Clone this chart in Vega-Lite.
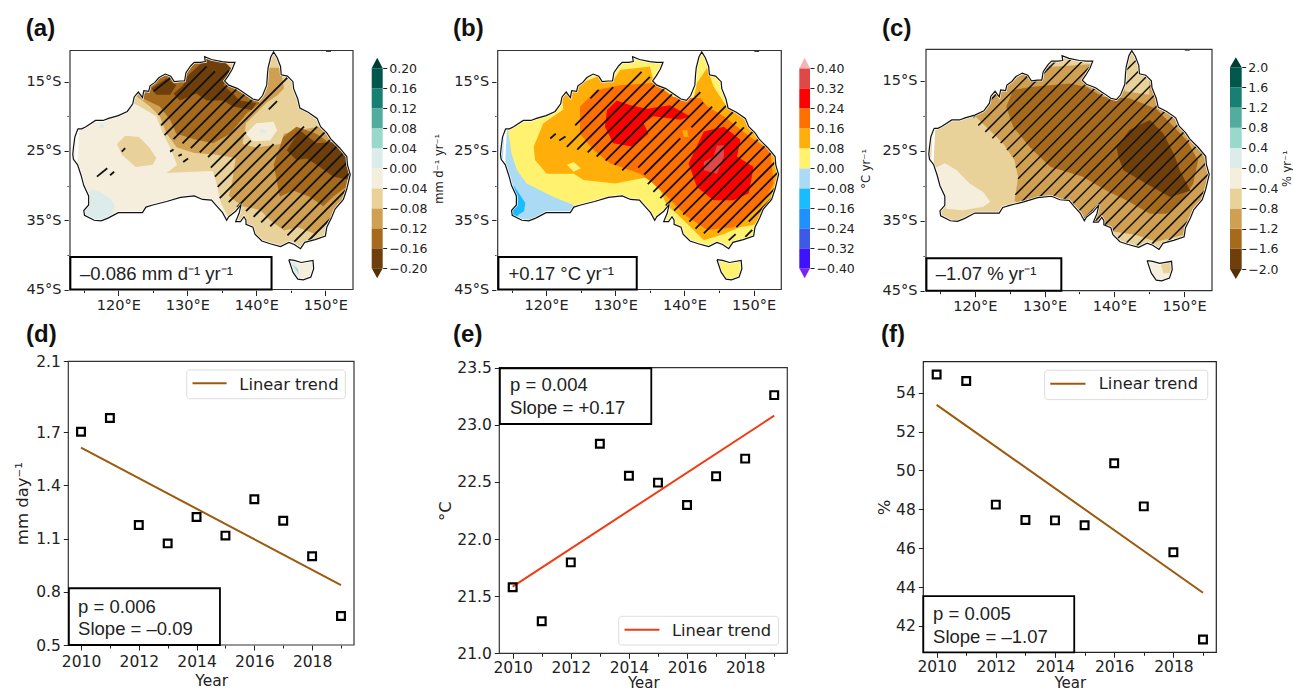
{"$schema":"https://vega.github.io/schema/vega-lite/v6.json","width":1293,"height":690,"padding":0,"autosize":{"type":"none"},"background":"white",
"config":{"view":{"stroke":null},"axis":{"grid":false,"domain":false,"labelFont":"DejaVu Sans","titleFont":"DejaVu Sans","labelColor":"#222","titleColor":"#222","tickColor":"#222","labelOverlap":false,"labelFlush":false}},
"datasets":{
"coast":[{"id":"main","x":[114.15,114.7,115.3,116.7,117.8,118.6,120,121.3,122.1,122.3,122.9,123.5,123.7,124.4,124.6,125.3,125.9,126.8,127.6,128.1,129,129.6,129.8,130.5,131,131.9,132.6,132.5,133.5,135,136,136.9,136.5,135.9,135.4,136,137.3,138.5,139.5,140.3,140.9,141.5,141.6,141.7,142.1,142.5,143,143.5,143.6,144.5,145.3,145.4,146,146.3,147.5,148.8,149.3,150.2,150.8,152,153.1,153.2,153.6,153.1,152.6,151.4,150.9,150.2,150,148.5,147,146.4,145.5,144.7,143.5,142,140.8,139.8,139.5,138.5,138.5,138.2,137.7,137,137.5,137.8,137,136,135.7,135.1,134.2,133.5,132.2,131,129,127,125,124,123.5,122,120,118.5,117.5,116.5,115.1,115,115.7,115.7,115,114.6,114.1,113.5,113.4,113.5,113.7,114.15],"y":[-21.8,-21.8,-21.5,-20.6,-20.6,-20.3,-19.9,-19.3,-18.2,-17.2,-16.5,-17.3,-16.3,-16.4,-15.6,-15.1,-14.4,-13.9,-14.2,-15,-14.9,-14.9,-13.7,-12.7,-12.2,-12.2,-12.1,-11.4,-11.8,-12.1,-12.2,-12.2,-13.2,-14.2,-14.9,-15.5,-16,-16.8,-17.5,-17.7,-17,-15.5,-14,-13,-11.4,-10.7,-11.5,-12.8,-14,-14.2,-15,-16,-17.5,-18.8,-19.4,-20.3,-21.5,-22.4,-23.3,-24.5,-25.8,-27,-28.4,-30.5,-32,-33.4,-34.6,-36,-37.3,-37.8,-38.2,-39.1,-38.5,-38.2,-38.8,-38.4,-38,-37,-36,-35.6,-35,-34.5,-35.2,-35.2,-34,-32.7,-33.7,-34.5,-35,-33.9,-32.9,-32.1,-32,-31.5,-31.7,-32.3,-32.8,-33.1,-33.9,-33.9,-33.9,-34.7,-35.1,-35,-34.3,-33.6,-32.8,-31.5,-30,-28.5,-27,-26.2,-25.5,-24.5,-23,-21.8]},
{"id":"tas","x":[144.7,145.5,146.5,148.2,148.3,147.9,146.8,146,145.3,144.7],"y":[-40.7,-40.8,-41.1,-40.8,-42,-43.2,-43.6,-43.5,-42.5,-40.7]},
{"id":"speck","x":[150.1,150.8],"y":[-10.6,-10.6]}],
"mask":[{"id":"m","x":[113,154,154,113,113,144.7,145.5,146.5,148.2,148.3,147.9,146.8,146,145.3,144.7,113,114.15,114.7,115.3,116.7,117.8,118.6,120,121.3,122.1,122.3,122.9,123.5,123.7,124.4,124.6,125.3,125.9,126.8,127.6,128.1,129,129.6,129.8,130.5,131,131.9,132.6,132.5,133.5,135,136,136.9,136.5,135.9,135.4,136,137.3,138.5,139.5,140.3,140.9,141.5,141.6,141.7,142.1,142.5,143,143.5,143.6,144.5,145.3,145.4,146,146.3,147.5,148.8,149.3,150.2,150.8,152,153.1,153.2,153.6,153.1,152.6,151.4,150.9,150.2,150,148.5,147,146.4,145.5,144.7,143.5,142,140.8,139.8,139.5,138.5,138.5,138.2,137.7,137,137.5,137.8,137,136,135.7,135.1,134.2,133.5,132.2,131,129,127,125,124,123.5,122,120,118.5,117.5,116.5,115.1,115,115.7,115.7,115,114.6,114.1,113.5,113.4,113.5,113.7,114.15,113],"y":[-45,-45,-10.5,-10.5,-45,-40.7,-40.8,-41.1,-40.8,-42,-43.2,-43.6,-43.5,-42.5,-40.7,-45,-21.8,-21.8,-21.5,-20.6,-20.6,-20.3,-19.9,-19.3,-18.2,-17.2,-16.5,-17.3,-16.3,-16.4,-15.6,-15.1,-14.4,-13.9,-14.2,-15,-14.9,-14.9,-13.7,-12.7,-12.2,-12.2,-12.1,-11.4,-11.8,-12.1,-12.2,-12.2,-13.2,-14.2,-14.9,-15.5,-16,-16.8,-17.5,-17.7,-17,-15.5,-14,-13,-11.4,-10.7,-11.5,-12.8,-14,-14.2,-15,-16,-17.5,-18.8,-19.4,-20.3,-21.5,-22.4,-23.3,-24.5,-25.8,-27,-28.4,-30.5,-32,-33.4,-34.6,-36,-37.3,-37.8,-38.2,-39.1,-38.5,-38.2,-38.8,-38.4,-38,-37,-36,-35.6,-35,-34.5,-35.2,-35.2,-34,-32.7,-33.7,-34.5,-35,-33.9,-32.9,-32.1,-32,-31.5,-31.7,-32.3,-32.8,-33.1,-33.9,-33.9,-33.9,-34.7,-35.1,-35,-34.3,-33.6,-32.8,-31.5,-30,-28.5,-27,-26.2,-25.5,-24.5,-23,-21.8,-45]}]
},
"resolve":{"scale":{"x":"independent","y":"independent","fill":"independent"},"axis":{"x":"independent","y":"independent"}},
"layer":[
{"encoding":{"x":{"field":"x","type":"quantitative","title":null,"scale":{"domain":[113,154],"range":[70,353]},"axis":{"orient":"bottom","offset":-400.5,"values":[115,120,125,130,135,140,145,150],"labelExpr":"datum.value%10==0?datum.value+'°E':''","labelFontSize":14.5,"labelPadding":3,"tickSize":{"condition":{"test":"datum.value%10==0","value":6},"value":3}}},"y":{"field":"y","type":"quantitative","title":null,"scale":{"domain":[-45,-10.5],"range":[289.5,50.5]},"axis":{"orient":"left","offset":-70,"values":[-15,-20,-25,-30,-35,-40,-45],"labelExpr":"datum.value%10==0?'':abs(datum.value)+'°S'","labelFontSize":14.5,"labelPadding":3,"tickSize":{"condition":{"test":"datum.value%10==0","value":3},"value":6}}}},
"layer":[
{"data":{"values":[
{"id":1,"v":-0.02,"x":[113,154,154,113],"y":[-45,-45,-10.5,-10.5]},
{"id":2,"v":0.02,"x":[116,117.5,119,119.5,119,116,115,115.3],"y":[-30.5,-31,-32,-33,-34.5,-35,-34,-32]},
{"id":3,"v":0.02,"x":[117.4,118,117.8,117.3],"y":[-21,-21.2,-21.8,-21.6]},
{"id":4,"v":0.02,"x":[144.5,145.5,146.3,146,145],"y":[-40.5,-41,-42.5,-43,-41.8]},
{"id":5,"v":0.06,"x":[145.2,146,146.2],"y":[-41.4,-42,-42.8]},
{"id":6,"v":-0.06,"x":[119.8,121,123,124.5,125.5,125,122.5,120.5],"y":[-24,-22.8,-23,-24.5,-26,-27,-27.3,-25.5]},
{"id":7,"v":-0.06,"x":[120,123,125.5,126.5,127.5,128.5,127,131,133.7,134.3,134.8,136,137,154,154,120],"y":[-17,-18.5,-20,-22.5,-24.5,-27,-28.2,-28,-27.9,-30,-32.3,-34.8,-40,-40,-10.6,-10.6]},
{"id":8,"v":-0.1,"x":[122.5,124.5,126,127,128.5,131,134,137,136.5,136,138,140.5,142,144,146,148.5,151,153,154,152,149,146,144,143.5,140,138,138.5,140,141.5,143,144,143.5,141,140,137,135,125],"y":[-17,-18.5,-20,-22.5,-24.5,-25.3,-25.5,-26,-29.5,-31.5,-33,-33.5,-35,-36.5,-36,-37,-34.5,-31,-27,-23,-21.5,-22,-22.5,-24,-24.5,-24,-21,-19.5,-18,-17,-16,-13,-13,-17.5,-16,-12,-12]},
{"id":9,"v":-0.02,"x":[138.5,140,142.5,143,142,139.5],"y":[-22.5,-21,-20.8,-22,-23.5,-23.6]},
{"id":10,"v":0.02,"x":[140.5,141.5,141.3,140.6],"y":[-21.8,-22,-22.5,-22.4]},
{"id":11,"v":-0.14,"x":[123.1,126,127.5,128.4,131.3,133.7,136.2,138.6,140.5,139,136.6,135,132,128,125],"y":[-17.2,-18.6,-20.5,-22.5,-23.4,-23.9,-22.5,-19.6,-18.1,-16.5,-15,-11,-11,-13,-14.5]},
{"id":12,"v":-0.14,"x":[143.9,145.8,148.7,152.1,153.3,153,151.1,149.7,147.7,145.3,143.4,142.5],"y":[-23,-21.5,-22.5,-24.9,-27.8,-30.2,-31.6,-33,-31.6,-30.7,-31.6,-27]},
{"id":13,"v":-0.18,"x":[129.9,132.8,135.2,136.6,135.2,136.6,137.6,140,139.3,136.6,135.2,132.8,131.3,128.9,128,129.4],"y":[-14.3,-11.6,-11.9,-13.3,-15.5,-16.7,-17.7,-18.1,-19.1,-18.6,-17.7,-17.7,-16.7,-17.7,-16.7,-15.5]},
{"id":14,"v":-0.18,"x":[124.8,127,128.4,127.5,125.5],"y":[-16,-14.5,-15.5,-16.9,-16.9]},
{"id":15,"v":-0.18,"x":[144.4,146.3,148.7,151.1,153.6,153.6,151.1,149.2,147.3,145.8],"y":[-24.9,-22,-23.9,-23.7,-26.3,-29.2,-28.7,-27.3,-26.1,-26.3]}
]},"transform":[{"flatten":["x","y"]}],"mark":{"type":"line","strokeWidth":0,"order":false},"encoding":{"detail":{"field":"id"},"fill":{"field":"v","type":"ordinal","legend":null,"scale":{"domain":[-0.22,-0.18,-0.14,-0.1,-0.06,-0.02,0.02,0.06,0.1,0.14,0.18,0.22],"range":["#543005","#6e3f0a","#a66a1c","#cfa052","#e9d29a","#f5eedc","#dcecea","#9bd8cc","#52ad9f","#187f75","#01574c","#003c30"]}}}},
{"data":{"values":[{"x":125.8,"y":-19.8,"x2":132.8,"y2":-12.8},{"x":126.2,"y":-21.3,"x2":134,"y2":-13.5},{"x":126.7,"y":-22.7,"x2":136,"y2":-13.4},{"x":128,"y":-23.3,"x2":137,"y2":-14.3},{"x":129.3,"y":-23.9,"x2":138,"y2":-15.2},{"x":130.5,"y":-24.6,"x2":139,"y2":-16.1},{"x":131.8,"y":-25.2,"x2":140,"y2":-17},{"x":133,"y":-25.9,"x2":144.5,"y2":-14.4},{"x":133.4,"y":-27.4,"x2":138.5,"y2":-22.3},{"x":141.8,"y":-19,"x2":143,"y2":-17.8},{"x":134,"y":-28.7,"x2":139.2,"y2":-23.5},{"x":134.4,"y":-30.2,"x2":140.6,"y2":-24},{"x":134.7,"y":-31.8,"x2":142.5,"y2":-24},{"x":136,"y":-32.4,"x2":146.9,"y2":-21.5},{"x":137.2,"y":-33.1,"x2":148.8,"y2":-21.5},{"x":138.5,"y":-33.7,"x2":150,"y2":-22.2},{"x":139.6,"y":-34.5,"x2":151.5,"y2":-22.6},{"x":140.7,"y":-35.3,"x2":154,"y2":-22},{"x":142,"y":-35.9,"x2":154,"y2":-23.9},{"x":143.7,"y":-36.1,"x2":154,"y2":-25.8},{"x":144.5,"y":-37.2,"x2":154,"y2":-27.7},{"x":145.5,"y":-38.1,"x2":154,"y2":-29.6},{"x":147.5,"y":-38,"x2":152,"y2":-33.5},{"x":116.9,"y":-28.7,"x2":118.4,"y2":-27.5},{"x":118.8,"y":-28.5,"x2":119.4,"y2":-28},{"x":120.5,"y":-25.1,"x2":121,"y2":-24.6},{"x":127.5,"y":-25.1,"x2":128,"y2":-24.8},{"x":128.7,"y":-25.7,"x2":129.2,"y2":-25.5},{"x":129.4,"y":-26.6,"x2":130.1,"y2":-26.1},{"x":125.1,"y":-16.4,"x2":127.5,"y2":-14.5}]},"mark":{"type":"rule","stroke":"#111","strokeWidth":1.8},"encoding":{"x2":{"field":"x2"},"y2":{"field":"y2"}}},
{"data":{"name":"mask"},"transform":[{"flatten":["x","y"]}],"mark":{"type":"line","fill":"white","stroke":"white","strokeWidth":2.5,"order":false}},
{"data":{"name":"coast"},"transform":[{"flatten":["x","y"]}],"mark":{"type":"line","stroke":"#111","strokeWidth":1.2,"order":false},"encoding":{"detail":{"field":"id"}}},
{"data":{"values":[{"x":113,"x2":154,"y":-45,"y2":-10.5}]},"mark":{"type":"rect","fill":null,"stroke":"#333","strokeWidth":1.2},"encoding":{"x2":{"field":"x2"},"y2":{"field":"y2"}}},
{"data":{"values":[{"x":113.05,"x2":142.2,"y":-45,"y2":-40.3}]},"mark":{"type":"rect","fill":"white","stroke":"#000","strokeWidth":2},"encoding":{"x2":{"field":"x2"},"y2":{"field":"y2"}}},
{"data":{"values":[{"x":114.45,"y":-43.6,"t":"–0.086 mm d⁻¹ yr⁻¹"}]},"mark":{"type":"text","font":"Liberation Sans","fontSize":18.5,"align":"left","baseline":"alphabetic","color":"#222"},"encoding":{"text":{"field":"t"}}},
{"data":{"values":[{"x":106.6,"y":-8.4,"t":"(a)"}]},"mark":{"type":"text","font":"Liberation Sans","fontWeight":"bold","fontSize":24,"align":"left","baseline":"alphabetic","color":"#111"},"encoding":{"text":{"field":"t"}}}
]},
{"encoding":{"x":{"field":"x","type":"quantitative","title":null,"axis":null,"scale":{"domain":[0,1],"range":[371.7,382.7]}},"y":{"field":"y","type":"quantitative","title":"mm d⁻¹ yr⁻¹","scale":{"domain":[-0.2,0.2],"range":[268.3,68.3]},"axis":{"orient":"right","offset":-910.3,"values":[-0.2,-0.16,-0.12,-0.08,-0.04,0,0.04,0.08,0.12,0.16,0.2],"labelExpr":"replace(format(datum.value,'.2f'),'-','−')","labelFontSize":12.5,"labelPadding":2,"tickSize":4,"titleFontSize":11.5,"titleFontWeight":"normal","titleAngle":270,"titlePadding":17}}},
"layer":[
{"data":{"values":[{"x":0,"x2":1,"v":-0.18,"y":-0.2,"y2":-0.16},{"x":0,"x2":1,"v":-0.14,"y":-0.16,"y2":-0.12},{"x":0,"x2":1,"v":-0.1,"y":-0.12,"y2":-0.08},{"x":0,"x2":1,"v":-0.06,"y":-0.08,"y2":-0.04},{"x":0,"x2":1,"v":-0.02,"y":-0.04,"y2":0},{"x":0,"x2":1,"v":0.02,"y":0,"y2":0.04},{"x":0,"x2":1,"v":0.06,"y":0.04,"y2":0.08},{"x":0,"x2":1,"v":0.1,"y":0.08,"y2":0.12},{"x":0,"x2":1,"v":0.14,"y":0.12,"y2":0.16},{"x":0,"x2":1,"v":0.18,"y":0.16,"y2":0.2}]},"mark":{"type":"rect"},"encoding":{"x2":{"field":"x2"},"y2":{"field":"y2"},"fill":{"field":"v","type":"ordinal","legend":null,"scale":{"domain":[-0.22,-0.18,-0.14,-0.1,-0.06,-0.02,0.02,0.06,0.1,0.14,0.18,0.22],"range":["#543005","#6e3f0a","#a66a1c","#cfa052","#e9d29a","#f5eedc","#dcecea","#9bd8cc","#52ad9f","#187f75","#01574c","#003c30"]}}}},
{"data":{"values":[{"id":1,"v":-0.22,"x":[0,1,0.5],"y":[-0.2,-0.2,-0.22]},{"id":2,"v":0.22,"x":[0,1,0.5],"y":[0.2,0.2,0.221]}]},"transform":[{"flatten":["x","y"]}],"mark":{"type":"line","strokeWidth":0,"order":false},"encoding":{"detail":{"field":"id"},"fill":{"field":"v","type":"ordinal","legend":null}}}
]},
{"encoding":{"x":{"field":"x","type":"quantitative","title":null,"scale":{"domain":[113,154],"range":[497.7,781.3]},"axis":{"orient":"bottom","offset":-400.5,"values":[115,120,125,130,135,140,145,150],"labelExpr":"datum.value%10==0?datum.value+'°E':''","labelFontSize":14.5,"labelPadding":3,"tickSize":{"condition":{"test":"datum.value%10==0","value":6},"value":3}}},"y":{"field":"y","type":"quantitative","title":null,"scale":{"domain":[-45,-10.5],"range":[289.5,50.5]},"axis":{"orient":"left","offset":-497.7,"values":[-15,-20,-25,-30,-35,-40,-45],"labelExpr":"datum.value%10==0?'':abs(datum.value)+'°S'","labelFontSize":14.5,"labelPadding":3,"tickSize":{"condition":{"test":"datum.value%10==0","value":3},"value":6}}}},
"layer":[
{"data":{"values":[
{"id":1,"v":0.04,"x":[113,154,154,113],"y":[-45,-45,-10.5,-10.5]},
{"id":2,"v":-0.04,"x":[113,114.5,115,115.8,117.2,121,124,123,113],"y":[-22,-22,-25.4,-27.8,-29.7,-31.6,-32.8,-37,-37]},
{"id":3,"v":-0.12,"x":[115.3,116,117,116.8,116,115.5,114.5],"y":[-30,-31,-32.5,-33.7,-34.2,-35.2,-34.5]},
{"id":4,"v":0.12,"x":[122.3,122.5,119.6,118.2,118.4,120.1,124,125.4,130,134.6,136.5,137.5,138.4,140.4,142.8,145.7,148,151,153.9,153.4,149.5,146.1,144.2,143.3,141.8,141.3,138.4,135.5,135,130.7,129.7,127.3,124],"y":[-17.4,-19,-21,-24.4,-26.3,-28.3,-28.3,-29.2,-29.7,-28.8,-30.7,-33,-33.6,-35.5,-37.9,-37,-36,-35.5,-29.7,-24.9,-21,-18.6,-15.7,-13,-15.2,-17.6,-17.2,-14.8,-12.8,-13.3,-14.8,-14.3,-15.7]},
{"id":5,"v":0.04,"x":[123,124,125,124],"y":[-27,-26.6,-27.5,-28]},
{"id":6,"v":0.2,"x":[125.4,127.3,130.7,135.5,138.4,142.3,143.3,145.7,149.5,152.4,152.9,151,147.1,143.3,140.4,137.5,135.5,133.6,129.3,126.9,124.9,124.9],"y":[-18.1,-16.2,-15.5,-15.2,-17.2,-17.4,-18.6,-20,-23,-24.9,-29.7,-33,-36,-36.4,-34.5,-31.6,-29.7,-28.3,-26.8,-24.9,-22.5,-18.6]},
{"id":7,"v":0.12,"x":[139.7,140.4,140.6,139.9],"y":[-22,-22,-23,-23]},
{"id":8,"v":0.28,"x":[128.8,130.2,132.2,134.6,137.9,140.8,139.4,135.5,134.1,134.8,132.6,129.7,128.5],"y":[-19.1,-17.7,-18.4,-18.9,-18.4,-20,-20.5,-20,-21,-22.5,-24.4,-23.9,-21.5]},
{"id":9,"v":0.28,"x":[142.8,145.7,148.1,147.6,150,149.3,147.1,144.2,141.8,140.6],"y":[-22.2,-21.5,-23.4,-25.8,-27.3,-31.1,-32.1,-32.1,-30.2,-26.8]},
{"id":10,"v":0.36,"x":[144.7,145.7,145.7,144.7,142.8,142.8,144.2],"y":[-24.2,-24.2,-25.8,-28.3,-27.8,-26.6,-25.8]}
]},"transform":[{"flatten":["x","y"]}],"mark":{"type":"line","strokeWidth":0,"order":false},"encoding":{"detail":{"field":"id"},"fill":{"field":"v","type":"ordinal","legend":null,"scale":{"domain":[-0.44,-0.36,-0.28,-0.2,-0.12,-0.04,0.04,0.12,0.2,0.28,0.36,0.44],"range":["#7b22f5","#3c12ff","#3b5be6","#1e90ff","#1bbcff","#abdaf4","#fff26e","#ffae0a","#ff7000","#ff0000","#e04848","#f5b5b5"]}}}},
{"data":{"values":[{"x":124.2,"y":-21.3,"x2":129.7,"y2":-15.8},{"x":126.4,"y":-17.4,"x2":127.6,"y2":-16.2},{"x":123,"y":-24.4,"x2":133.8,"y2":-13.6},{"x":124.5,"y":-24.8,"x2":135,"y2":-14.3},{"x":126,"y":-25.2,"x2":136.5,"y2":-14.7},{"x":127.3,"y":-25.8,"x2":137.5,"y2":-15.6},{"x":128.6,"y":-26.4,"x2":138.5,"y2":-16.5},{"x":129.9,"y":-27,"x2":139.5,"y2":-17.4},{"x":131,"y":-27.8,"x2":142.3,"y2":-16.5},{"x":133.3,"y":-27.4,"x2":142.7,"y2":-18},{"x":134.2,"y":-28.4,"x2":139.4,"y2":-23.2},{"x":141,"y":-21.6,"x2":144,"y2":-18.6},{"x":134.7,"y":-29.8,"x2":146,"y2":-18.5},{"x":135.5,"y":-30.9,"x2":147,"y2":-19.4},{"x":136.5,"y":-31.8,"x2":147.5,"y2":-20.8},{"x":137.3,"y":-32.9,"x2":148.6,"y2":-21.6},{"x":138.5,"y":-33.6,"x2":150,"y2":-22.1},{"x":139.8,"y":-34.2,"x2":151.2,"y2":-22.8},{"x":140.7,"y":-35.2,"x2":152.5,"y2":-23.4},{"x":141.6,"y":-36.2,"x2":154,"y2":-23.8},{"x":142.8,"y":-36.9,"x2":154,"y2":-25.7},{"x":144.8,"y":-36.8,"x2":154,"y2":-27.6},{"x":147.5,"y":-36,"x2":154,"y2":-29.5},{"x":146.4,"y":-37.9,"x2":147.4,"y2":-37},{"x":149.3,"y":-35.2,"x2":154,"y2":-30.5},{"x":148.8,"y":-37.4,"x2":149.8,"y2":-36.4},{"x":120.6,"y":-23.2,"x2":121.4,"y2":-22.5},{"x":121.9,"y":-23.5,"x2":122.8,"y2":-22.9}]},"mark":{"type":"rule","stroke":"#111","strokeWidth":1.8},"encoding":{"x2":{"field":"x2"},"y2":{"field":"y2"}}},
{"data":{"name":"mask"},"transform":[{"flatten":["x","y"]}],"mark":{"type":"line","fill":"white","stroke":"white","strokeWidth":2.5,"order":false}},
{"data":{"name":"coast"},"transform":[{"flatten":["x","y"]}],"mark":{"type":"line","stroke":"#111","strokeWidth":1.2,"order":false},"encoding":{"detail":{"field":"id"}}},
{"data":{"values":[{"x":113,"x2":154,"y":-45,"y2":-10.5}]},"mark":{"type":"rect","fill":null,"stroke":"#333","strokeWidth":1.2},"encoding":{"x2":{"field":"x2"},"y2":{"field":"y2"}}},
{"data":{"values":[{"x":113.1,"x2":133.1,"y":-45,"y2":-40.3}]},"mark":{"type":"rect","fill":"white","stroke":"#000","strokeWidth":2},"encoding":{"x2":{"field":"x2"},"y2":{"field":"y2"}}},
{"data":{"values":[{"x":114.55,"y":-43.6,"t":"+0.17 °C yr⁻¹"}]},"mark":{"type":"text","font":"Liberation Sans","fontSize":18.5,"align":"left","baseline":"alphabetic","color":"#222"},"encoding":{"text":{"field":"t"}}},
{"data":{"values":[{"x":106.54,"y":-8.4,"t":"(b)"}]},"mark":{"type":"text","font":"Liberation Sans","fontWeight":"bold","fontSize":24,"align":"left","baseline":"alphabetic","color":"#111"},"encoding":{"text":{"field":"t"}}}
]},
{"encoding":{"x":{"field":"x","type":"quantitative","title":null,"axis":null,"scale":{"domain":[0,1],"range":[799.3,810]}},"y":{"field":"y","type":"quantitative","title":"°C yr⁻¹","scale":{"domain":[-0.4,0.4],"range":[268.3,68.3]},"axis":{"orient":"right","offset":-483,"values":[-0.4,-0.32,-0.24,-0.16,-0.08,0,0.08,0.16,0.24,0.32,0.4],"labelExpr":"replace(format(datum.value,'.2f'),'-','−')","labelFontSize":12.5,"labelPadding":2,"tickSize":4,"titleFontSize":11.5,"titleFontWeight":"normal","titleAngle":270,"titlePadding":17}}},
"layer":[
{"data":{"values":[{"x":0,"x2":1,"v":-0.36,"y":-0.4,"y2":-0.32},{"x":0,"x2":1,"v":-0.28,"y":-0.32,"y2":-0.24},{"x":0,"x2":1,"v":-0.2,"y":-0.24,"y2":-0.16},{"x":0,"x2":1,"v":-0.12,"y":-0.16,"y2":-0.08},{"x":0,"x2":1,"v":-0.04,"y":-0.08,"y2":0},{"x":0,"x2":1,"v":0.04,"y":0,"y2":0.08},{"x":0,"x2":1,"v":0.12,"y":0.08,"y2":0.16},{"x":0,"x2":1,"v":0.2,"y":0.16,"y2":0.24},{"x":0,"x2":1,"v":0.28,"y":0.24,"y2":0.32},{"x":0,"x2":1,"v":0.36,"y":0.32,"y2":0.4}]},"mark":{"type":"rect"},"encoding":{"x2":{"field":"x2"},"y2":{"field":"y2"},"fill":{"field":"v","type":"ordinal","legend":null,"scale":{"domain":[-0.44,-0.36,-0.28,-0.2,-0.12,-0.04,0.04,0.12,0.2,0.28,0.36,0.44],"range":["#7b22f5","#3c12ff","#3b5be6","#1e90ff","#1bbcff","#abdaf4","#fff26e","#ffae0a","#ff7000","#ff0000","#e04848","#f5b5b5"]}}}},
{"data":{"values":[{"id":1,"v":-0.44,"x":[0,1,0.5],"y":[-0.4,-0.4,-0.44]},{"id":2,"v":0.44,"x":[0,1,0.5],"y":[0.4,0.4,0.442]}]},"transform":[{"flatten":["x","y"]}],"mark":{"type":"line","strokeWidth":0,"order":false},"encoding":{"detail":{"field":"id"},"fill":{"field":"v","type":"ordinal","legend":null}}}
]},
{"encoding":{"x":{"field":"x","type":"quantitative","title":null,"scale":{"domain":[113,154],"range":[926,1212]},"axis":{"orient":"bottom","offset":-399.3,"values":[115,120,125,130,135,140,145,150],"labelExpr":"datum.value%10==0?datum.value+'°E':''","labelFontSize":14.5,"labelPadding":3,"tickSize":{"condition":{"test":"datum.value%10==0","value":6},"value":3}}},"y":{"field":"y","type":"quantitative","title":null,"scale":{"domain":[-45,-10.5],"range":[290.7,49.3]},"axis":{"orient":"left","offset":-926,"values":[-15,-20,-25,-30,-35,-40,-45],"labelExpr":"datum.value%10==0?'':abs(datum.value)+'°S'","labelFontSize":14.5,"labelPadding":3,"tickSize":{"condition":{"test":"datum.value%10==0","value":3},"value":6}}}},
"layer":[
{"data":{"values":[
{"id":1,"v":-0.6,"x":[113,154,154,113],"y":[-45,-45,-10.5,-10.5]},
{"id":2,"v":-0.2,"x":[114,115.7,117.4,119.3,121.2,122.2,121.2,118.3,115.9,115.7,114.5],"y":[-27.6,-26.8,-27.8,-29.7,-30.9,-32.3,-33,-33.5,-33.3,-32.1,-29.2]},
{"id":3,"v":-1,"x":[120.2,124.1,125.7,126.2,125.7,130,154,154,130,119],"y":[-20.2,-24,-26.4,-28.8,-32.1,-37,-40,-10.6,-10.6,-16]},
{"id":4,"v":-0.6,"x":[141,145,145,141.5],"y":[-10.6,-10.6,-17,-16.5]},
{"id":5,"v":-0.6,"x":[128,137,137,131],"y":[-10.6,-10.6,-12.6,-13]},
{"id":6,"v":-0.6,"x":[139.5,143,146,150,151,139],"y":[-36.5,-37,-38,-37,-39,-39]},
{"id":7,"v":-1.4,"x":[124.5,125.5,127.9,133.6,136,138.4,142.2,146,150.4,152,151.3,149.4,147.5,145.1,141.8,138.9,135.5,130.8,127.9,125.5],"y":[-18.7,-16.3,-15.9,-15.4,-15.9,-17.3,-17.5,-19,-23.5,-26.4,-29.7,-32.6,-34,-34,-32.1,-30.7,-28.7,-27.3,-24.5,-21.6]},
{"id":8,"v":-1.8,"x":[140.3,142.2,145.1,147,148.5,149.4,150.9,148,144.6,141.3,140.6],"y":[-24.5,-22,-20.6,-22.5,-25.4,-27.8,-30.7,-31.6,-29.7,-27.8,-25.9]},
{"id":9,"v":-0.2,"x":[144.5,148.5,148.5,144.5],"y":[-40.5,-40.5,-44,-44]},
{"id":10,"v":-0.6,"x":[146.5,148.5,148.5,147],"y":[-40.5,-40.5,-42.5,-42.5]}
]},"transform":[{"flatten":["x","y"]}],"mark":{"type":"line","strokeWidth":0,"order":false},"encoding":{"detail":{"field":"id"},"fill":{"field":"v","type":"ordinal","legend":null,"scale":{"domain":[-2.2,-1.8,-1.4,-1,-0.6,-0.2,0.2,0.6,1,1.4,1.8,2.2],"range":["#543005","#6e3f0a","#a66a1c","#cfa052","#e9d29a","#f5eedc","#dcecea","#9bd8cc","#52ad9f","#187f75","#01574c","#003c30"]}}}},
{"data":{"values":[{"x":119.8,"y":-20.2,"x2":129.4,"y2":-10.6},{"x":120.5,"y":-21.4,"x2":131.3,"y2":-10.6},{"x":121.5,"y":-22.3,"x2":133.2,"y2":-10.6},{"x":122.5,"y":-23.2,"x2":135.1,"y2":-10.6},{"x":123.7,"y":-23.9,"x2":137,"y2":-10.6},{"x":124.6,"y":-24.9,"x2":138.9,"y2":-10.6},{"x":125.5,"y":-25.9,"x2":140.8,"y2":-10.6},{"x":125.9,"y":-27.4,"x2":142.7,"y2":-10.6},{"x":126.2,"y":-29,"x2":144.6,"y2":-10.6},{"x":125.8,"y":-31.3,"x2":146.5,"y2":-10.6},{"x":126,"y":-33,"x2":148.4,"y2":-10.6},{"x":127,"y":-33.9,"x2":150.3,"y2":-10.6},{"x":128,"y":-34.8,"x2":152.2,"y2":-10.6},{"x":130,"y":-34.7,"x2":154,"y2":-10.7},{"x":132,"y":-34.6,"x2":154,"y2":-12.6},{"x":134,"y":-34.5,"x2":154,"y2":-14.5},{"x":135,"y":-35.4,"x2":154,"y2":-16.4},{"x":136,"y":-36.3,"x2":154,"y2":-18.3},{"x":137,"y":-37.2,"x2":154,"y2":-20.2},{"x":138,"y":-38.1,"x2":154,"y2":-22.1},{"x":139,"y":-39,"x2":154,"y2":-24},{"x":140,"y":-39.9,"x2":154,"y2":-25.9},{"x":142,"y":-39.8,"x2":154,"y2":-27.8},{"x":144,"y":-39.7,"x2":154,"y2":-29.7},{"x":146,"y":-39.6,"x2":154,"y2":-31.6},{"x":147,"y":-40.5,"x2":154,"y2":-33.5}]},"mark":{"type":"rule","stroke":"#111","strokeWidth":1.5},"encoding":{"x2":{"field":"x2"},"y2":{"field":"y2"}}},
{"data":{"name":"mask"},"transform":[{"flatten":["x","y"]}],"mark":{"type":"line","fill":"white","stroke":"white","strokeWidth":2.5,"order":false}},
{"data":{"name":"coast"},"transform":[{"flatten":["x","y"]}],"mark":{"type":"line","stroke":"#111","strokeWidth":1.2,"order":false},"encoding":{"detail":{"field":"id"}}},
{"data":{"values":[{"x":113,"x2":154,"y":-45,"y2":-10.5}]},"mark":{"type":"rect","fill":null,"stroke":"#333","strokeWidth":1.2},"encoding":{"x2":{"field":"x2"},"y2":{"field":"y2"}}},
{"data":{"values":[{"x":113.06,"x2":132.4,"y":-45,"y2":-40.35}]},"mark":{"type":"rect","fill":"white","stroke":"#000","strokeWidth":2},"encoding":{"x2":{"field":"x2"},"y2":{"field":"y2"}}},
{"data":{"values":[{"x":114.4,"y":-43.5,"t":"–1.07 % yr⁻¹"}]},"mark":{"type":"text","font":"Liberation Sans","fontSize":18.5,"align":"left","baseline":"alphabetic","color":"#222"},"encoding":{"text":{"field":"t"}}},
{"data":{"values":[{"x":106.7,"y":-8.6,"t":"(c)"}]},"mark":{"type":"text","font":"Liberation Sans","fontWeight":"bold","fontSize":24,"align":"left","baseline":"alphabetic","color":"#111"},"encoding":{"text":{"field":"t"}}}
]},
{"encoding":{"x":{"field":"x","type":"quantitative","title":null,"axis":null,"scale":{"domain":[0,1],"range":[1230,1241.7]}},"y":{"field":"y","type":"quantitative","title":"% yr⁻¹","scale":{"domain":[-2,2],"range":[269,67.3]},"axis":{"orient":"right","offset":-51.3,"values":[-2,-1.6,-1.2,-0.8,-0.4,0,0.4,0.8,1.2,1.6,2],"labelExpr":"replace(format(datum.value,'.1f'),'-','−')","labelFontSize":12.5,"labelPadding":2,"tickSize":4,"titleFontSize":11.5,"titleFontWeight":"normal","titleAngle":270,"titlePadding":14}}},
"layer":[
{"data":{"values":[{"x":0,"x2":1,"v":-1.8,"y":-2,"y2":-1.6},{"x":0,"x2":1,"v":-1.4,"y":-1.6,"y2":-1.2},{"x":0,"x2":1,"v":-1,"y":-1.2,"y2":-0.8},{"x":0,"x2":1,"v":-0.6,"y":-0.8,"y2":-0.4},{"x":0,"x2":1,"v":-0.2,"y":-0.4,"y2":0},{"x":0,"x2":1,"v":0.2,"y":0,"y2":0.4},{"x":0,"x2":1,"v":0.6,"y":0.4,"y2":0.8},{"x":0,"x2":1,"v":1,"y":0.8,"y2":1.2},{"x":0,"x2":1,"v":1.4,"y":1.2,"y2":1.6},{"x":0,"x2":1,"v":1.8,"y":1.6,"y2":2}]},"mark":{"type":"rect"},"encoding":{"x2":{"field":"x2"},"y2":{"field":"y2"},"fill":{"field":"v","type":"ordinal","legend":null,"scale":{"domain":[-2.2,-1.8,-1.4,-1,-0.6,-0.2,0.2,0.6,1,1.4,1.8,2.2],"range":["#543005","#6e3f0a","#a66a1c","#cfa052","#e9d29a","#f5eedc","#dcecea","#9bd8cc","#52ad9f","#187f75","#01574c","#003c30"]}}}},
{"data":{"values":[{"id":1,"v":-2.2,"x":[0,1,0.5],"y":[-2,-2,-2.2]},{"id":2,"v":2.2,"x":[0,1,0.5],"y":[2,2,2.2]}]},"transform":[{"flatten":["x","y"]}],"mark":{"type":"line","strokeWidth":0,"order":false},"encoding":{"detail":{"field":"id"},"fill":{"field":"v","type":"ordinal","legend":null}}}
]},
{"encoding":{"x":{"field":"x","type":"quantitative","title":"Year","scale":{"domain":[2009.56,2019.45],"range":[68.3,354]},"axis":{"orient":"bottom","offset":-45,"values":[2010,2011,2012,2013,2014,2015,2016,2017,2018,2019],"labelExpr":"datum.value%2==0?format(datum.value,'d'):''","labelFontSize":15.5,"labelPadding":4.5,"titleFontSize":15.5,"titleFontWeight":"normal","titlePadding":3.5,"tickSize":{"condition":{"test":"datum.value%2==0","value":5},"value":3}}},"y":{"field":"y","type":"quantitative","title":"mm day⁻¹","scale":{"domain":[0.5,2.1],"range":[645,361.3]},"axis":{"orient":"left","offset":-68.3,"values":[0.5,0.8,1.1,1.4,1.7,2.1],"format":".1f","labelFontSize":15.5,"labelPadding":3,"tickSize":5,"titleFontSize":16.5,"titleFontWeight":"normal","titlePadding":5}}},
"layer":[
{"data":{"values":[{"x":2010,"y":1.613},{"x":2019,"y":0.838}]},"mark":{"type":"line","stroke":"#9c5a0c","strokeWidth":2}},
{"data":{"values":[{"x":2010,"y":1.703},{"x":2011,"y":1.78},{"x":2012,"y":1.177},{"x":2013,"y":1.073},{"x":2014,"y":1.222},{"x":2015,"y":1.117},{"x":2016,"y":1.322},{"x":2017,"y":1.201},{"x":2018,"y":1.0},{"x":2019,"y":0.664}]},"mark":{"type":"point","shape":"square","filled":false,"stroke":"#000","strokeWidth":2.2,"size":60,"opacity":1}},
{"data":{"values":[{"x":2009.56,"x2":2019.45,"y":0.5,"y2":2.1}]},"mark":{"type":"rect","fill":null,"stroke":"#333","strokeWidth":1.2},"encoding":{"x2":{"field":"x2"},"y2":{"field":"y2"}}},
{"data":{"values":[{"x":2009.58,"x2":2014.81,"y":0.5,"y2":0.82}]},"mark":{"type":"rect","fill":"white","stroke":"#000","strokeWidth":1.8},"encoding":{"x2":{"field":"x2"},"y2":{"field":"y2"}}},
{"data":{"values":[{"x":2009.9,"y":0.68,"t":"p = 0.006"},{"x":2009.9,"y":0.556,"t":"Slope = –0.09"}]},"mark":{"type":"text","font":"Liberation Sans","fontSize":18.5,"align":"left","baseline":"alphabetic","color":"#222"},"encoding":{"text":{"field":"t"}}},
{"data":{"values":[{"x":2013.66,"x2":2019.15,"y":1.889,"y2":2.051}]},"mark":{"type":"rect","fill":"white","stroke":"#ddd","strokeWidth":1,"cornerRadius":3},"encoding":{"x2":{"field":"x2"},"y2":{"field":"y2"}}},
{"data":{"values":[{"x":2013.86,"x2":2015.04,"y":1.976}]},"mark":{"type":"rule","stroke":"#9c5a0c","strokeWidth":2},"encoding":{"x2":{"field":"x2"}}},
{"data":{"values":[{"x":2015.48,"y":1.94,"t":"Linear trend"}]},"mark":{"type":"text","font":"DejaVu Sans","fontSize":16.3,"align":"left","baseline":"alphabetic","color":"#222"},"encoding":{"text":{"field":"t"}}},
{"data":{"values":[{"x":2008.1,"y":2.209,"t":"(d)"}]},"mark":{"type":"text","font":"Liberation Sans","fontWeight":"bold","fontSize":24,"align":"left","baseline":"alphabetic","color":"#111"},"encoding":{"text":{"field":"t"}}}
]},
{"encoding":{"x":{"field":"x","type":"quantitative","title":"Year","scale":{"domain":[2009.54,2019.45],"range":[499.3,787.3]},"axis":{"orient":"bottom","offset":-36.7,"values":[2010,2011,2012,2013,2014,2015,2016,2017,2018,2019],"labelExpr":"datum.value%2==0?format(datum.value,'d'):''","labelFontSize":15.5,"labelPadding":2,"titleFontSize":15,"titleFontWeight":"normal","titlePadding":0,"tickSize":{"condition":{"test":"datum.value%2==0","value":5},"value":3}}},"y":{"field":"y","type":"quantitative","title":"°C","scale":{"domain":[21,23.5],"range":[653.3,367.7]},"axis":{"orient":"left","offset":-499.3,"values":[21,21.5,22,22.5,23,23.5],"format":".1f","labelFontSize":15.5,"labelPadding":3,"tickSize":5,"titleFontSize":16.5,"titleFontWeight":"normal","titlePadding":3}}},
"layer":[
{"data":{"values":[{"x":2010,"y":21.583},{"x":2019,"y":23.08}]},"mark":{"type":"line","stroke":"#f03c10","strokeWidth":2}},
{"data":{"values":[{"x":2010,"y":21.578},{"x":2011,"y":21.28},{"x":2012,"y":21.796},{"x":2013,"y":22.835},{"x":2014,"y":22.555},{"x":2015,"y":22.494},{"x":2016,"y":22.298},{"x":2017,"y":22.549},{"x":2018,"y":22.704},{"x":2019,"y":23.26}]},"mark":{"type":"point","shape":"square","filled":false,"stroke":"#000","strokeWidth":2.2,"size":60,"opacity":1}},
{"data":{"values":[{"x":2009.54,"x2":2019.45,"y":21,"y2":23.5}]},"mark":{"type":"rect","fill":null,"stroke":"#333","strokeWidth":1.2},"encoding":{"x2":{"field":"x2"},"y2":{"field":"y2"}}},
{"data":{"values":[{"x":2009.56,"x2":2014.77,"y":23.007,"y2":23.495}]},"mark":{"type":"rect","fill":"white","stroke":"#000","strokeWidth":1.8},"encoding":{"x2":{"field":"x2"},"y2":{"field":"y2"}}},
{"data":{"values":[{"x":2009.91,"y":23.296,"t":"p = 0.004"},{"x":2009.91,"y":23.095,"t":"Slope = +0.17"}]},"mark":{"type":"text","font":"Liberation Sans","fontSize":18.5,"align":"left","baseline":"alphabetic","color":"#222"},"encoding":{"text":{"field":"t"}}},
{"data":{"values":[{"x":2013.65,"x2":2019.15,"y":21.073,"y2":21.324}]},"mark":{"type":"rect","fill":"white","stroke":"#ddd","strokeWidth":1,"cornerRadius":3},"encoding":{"x2":{"field":"x2"},"y2":{"field":"y2"}}},
{"data":{"values":[{"x":2013.85,"x2":2015.05,"y":21.207}]},"mark":{"type":"rule","stroke":"#f03c10","strokeWidth":2},"encoding":{"x2":{"field":"x2"}}},
{"data":{"values":[{"x":2015.48,"y":21.155,"t":"Linear trend"}]},"mark":{"type":"text","font":"DejaVu Sans","fontSize":16.3,"align":"left","baseline":"alphabetic","color":"#222"},"encoding":{"text":{"field":"t"}}},
{"data":{"values":[{"x":2007.95,"y":23.724,"t":"(e)"}]},"mark":{"type":"text","font":"Liberation Sans","fontWeight":"bold","fontSize":24,"align":"left","baseline":"alphabetic","color":"#111"},"encoding":{"text":{"field":"t"}}}
]},
{"encoding":{"x":{"field":"x","type":"quantitative","title":"Year","scale":{"domain":[2009.55,2019.45],"range":[923.3,1216.3]},"axis":{"orient":"bottom","offset":-37.7,"values":[2010,2011,2012,2013,2014,2015,2016,2017,2018,2019],"labelExpr":"datum.value%2==0?format(datum.value,'d'):''","labelFontSize":15.5,"labelPadding":2,"titleFontSize":15,"titleFontWeight":"normal","titlePadding":1,"tickSize":{"condition":{"test":"datum.value%2==0","value":5},"value":3}}},"y":{"field":"y","type":"quantitative","title":"%","scale":{"domain":[40.645,55.59],"range":[652.3,361.7]},"axis":{"orient":"left","offset":-923.3,"values":[42,44,46,48,50,52,54],"format":"d","labelFontSize":15.5,"labelPadding":3,"tickSize":5,"titleFontSize":16.5,"titleFontWeight":"normal","titlePadding":3}}},
"layer":[
{"data":{"values":[{"x":2010,"y":53.37},{"x":2019,"y":43.71}]},"mark":{"type":"line","stroke":"#9c5a0c","strokeWidth":2}},
{"data":{"values":[{"x":2010,"y":54.93},{"x":2011,"y":54.6},{"x":2012,"y":48.24},{"x":2013,"y":47.45},{"x":2014,"y":47.43},{"x":2015,"y":47.18},{"x":2016,"y":50.37},{"x":2017,"y":48.15},{"x":2018,"y":45.79},{"x":2019,"y":41.3}]},"mark":{"type":"point","shape":"square","filled":false,"stroke":"#000","strokeWidth":2.2,"size":60,"opacity":1}},
{"data":{"values":[{"x":2009.55,"x2":2019.45,"y":40.645,"y2":55.59}]},"mark":{"type":"rect","fill":null,"stroke":"#222","strokeWidth":1.2},"encoding":{"x2":{"field":"x2"},"y2":{"field":"y2"}}},
{"data":{"values":[{"x":2009.55,"x2":2014.65,"y":40.645,"y2":43.53}]},"mark":{"type":"rect","fill":"white","stroke":"#000","strokeWidth":1.8},"encoding":{"x2":{"field":"x2"},"y2":{"field":"y2"}}},
{"data":{"values":[{"x":2009.88,"y":42.31,"t":"p = 0.005"},{"x":2009.88,"y":41.14,"t":"Slope = –1.07"}]},"mark":{"type":"text","font":"Liberation Sans","fontSize":18.5,"align":"left","baseline":"alphabetic","color":"#222"},"encoding":{"text":{"field":"t"}}},
{"data":{"values":[{"x":2013.65,"x2":2019.16,"y":53.64,"y2":55.15}]},"mark":{"type":"rect","fill":"white","stroke":"#ddd","strokeWidth":1,"cornerRadius":3},"encoding":{"x2":{"field":"x2"},"y2":{"field":"y2"}}},
{"data":{"values":[{"x":2013.84,"x2":2015.03,"y":54.46}]},"mark":{"type":"rule","stroke":"#9c5a0c","strokeWidth":2},"encoding":{"x2":{"field":"x2"}}},
{"data":{"values":[{"x":2015.48,"y":54.17,"t":"Linear trend"}]},"mark":{"type":"text","font":"DejaVu Sans","fontSize":16.3,"align":"left","baseline":"alphabetic","color":"#222"},"encoding":{"text":{"field":"t"}}},
{"data":{"values":[{"x":2008.12,"y":56.6,"t":"(f)"}]},"mark":{"type":"text","font":"Liberation Sans","fontWeight":"bold","fontSize":24,"align":"left","baseline":"alphabetic","color":"#111"},"encoding":{"text":{"field":"t"}}}
]}
]}
